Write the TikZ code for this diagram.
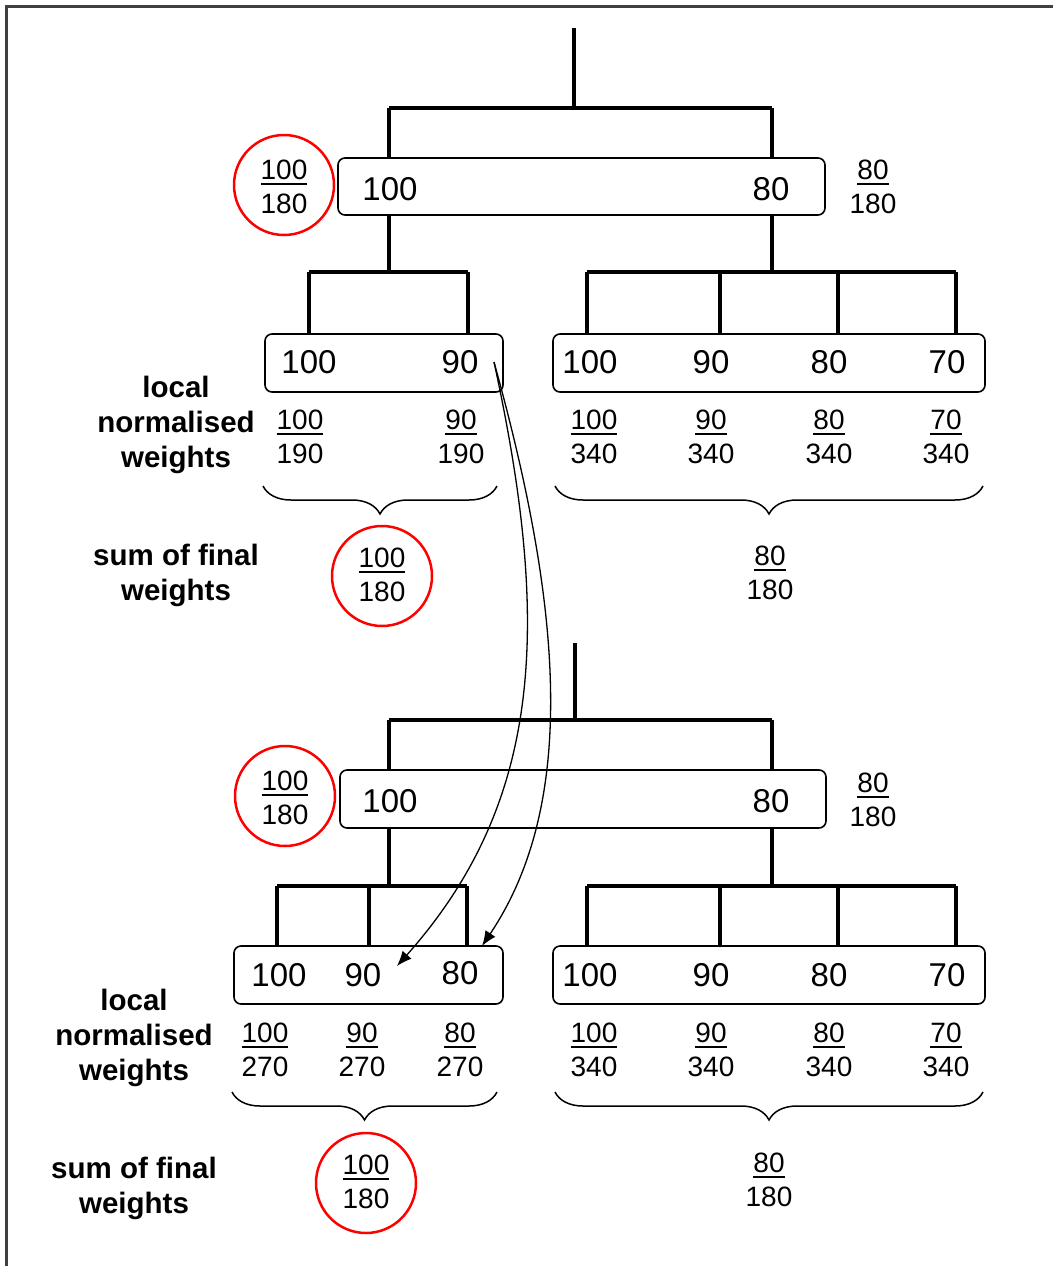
\documentclass[tikz,border=0pt]{standalone}
\usepackage{fontspec}
\setmainfont{Liberation Sans}
\usetikzlibrary{arrows.meta,decorations.pathreplacing}
\newcommand\myul[1]{\setbox0\hbox{#1}\hbox{\rlap{\vrule width \wd0 height -3pt depth 5pt}\box0}}
\newcommand\myfr[2]{\myul{#1}\\#2}
\begin{document}
\begin{tikzpicture}[x=1pt,y=-1pt,
  tree/.style={line width=3.5pt},
  wbox/.style={draw, line width=1.6pt, rounded corners=7pt, fill=white, inner sep=0pt},
  big/.style={font=\fontsize{33}{38}\selectfont, inner sep=0pt},
  frac/.style={font=\fontsize{28}{34}\selectfont, align=center, inner sep=0pt},
  lbl/.style={font=\bfseries\fontsize{29.5}{35}\selectfont, align=center, inner sep=0pt},
  ring/.style={draw=red, line width=2.5pt, circle, minimum size=100pt, inner sep=0pt},
  brc/.style={decorate, decoration={brace, mirror, amplitude=28pt}, line width=1.5pt},
  flow/.style={line width=1.3pt, -{Latex[length=15pt,width=12pt]}}
]
\useasboundingbox (0,0) rectangle (1053,1266);
\coordinate (fa) at (1053,6);
\coordinate (fb) at (6,6);
\coordinate (fc) at (6,1266);
\draw[line width=3pt, black!75] (fa) -- (fb) -- (fc);

% ---------- top tree ----------
\coordinate (r1) at (574,28);
\coordinate (h1) at (574,108);
\coordinate (h1L) at (389,108);
\coordinate (h1R) at (772,108);
\coordinate (k1L) at (389,272);
\coordinate (k1R) at (772,272);
\coordinate (k1La) at (309,272);
\coordinate (k1Lb) at (468,272);
\coordinate (k1Ra) at (587,272);
\coordinate (k1Rb) at (720,272);
\coordinate (k1Rc) at (838,272);
\coordinate (k1Rd) at (956,272);

\node[wbox, minimum width=487pt, minimum height=57pt] (T1) at (581.5,186.5) {};
\node[wbox, minimum width=238pt, minimum height=58pt] (TL) at (384,363) {};
\node[wbox, minimum width=432pt, minimum height=58pt] (TR) at (769,363) {};

\draw[tree] (r1) -- (h1);
\draw[tree] (h1L) -- (h1R);
\draw[tree] (h1L) -- (h1L |- T1.north);
\draw[tree] (h1R) -- (h1R |- T1.north);
\draw[tree] (k1L |- T1.south) -- (k1L);
\draw[tree] (k1R |- T1.south) -- (k1R);
\draw[tree] (k1La) -- (k1Lb);
\draw[tree] (k1La) -- (k1La |- TL.north);
\draw[tree] (k1Lb) -- (k1Lb |- TL.north);
\draw[tree] (k1Ra) -- (k1Rd);
\foreach \c in {k1Ra,k1Rb,k1Rc,k1Rd} \draw[tree] (\c) -- (\c |- TR.north);

\node[big] (T1a) at (390,189) {100};
\node[big] (T1b) at (771,189) {80};
\node[big] (TLa) at (309,362) {100};
\node[big] (TLb) at (460,362) {90};
\node[big] (TRa) at (590,362) {100};
\node[big] (TRb) at (711,362) {90};
\node[big] (TRc) at (829,362) {80};
\node[big] (TRd) at (947,362) {70};

\node[ring] (C1) at (284,185) {};
\node[frac] (F1) at (284,187) {\myfr{100}{180}};
\node[frac] (F2) at (873,187) {\myfr{80}{180}};

\node[frac] (F3) at (300,437) {\myfr{100}{190}};
\node[frac] (F4) at (461,437) {\myfr{90}{190}};
\node[frac] (F5) at (594,437) {\myfr{100}{340}};
\node[frac] (F6) at (711,437) {\myfr{90}{340}};
\node[frac] (F7) at (829,437) {\myfr{80}{340}};
\node[frac] (F8) at (946,437) {\myfr{70}{340}};

\node[lbl] (L1) at (176,425) {local\\normalised\\weights};
\node[lbl] (L2) at (176,575) {sum of final\\weights};

\coordinate (b1a) at (263,486);
\coordinate (b1b) at (497,486);
\coordinate (b2a) at (555,486);
\coordinate (b2b) at (983,486);
\draw[brc] (b1a) -- (b1b);
\draw[brc] (b2a) -- (b2b);

\node[ring] (C2) at (382,576) {};
\node[frac] (F9) at (382,575) {\myfr{100}{180}};
\node[frac] (F10) at (770,573) {\myfr{80}{180}};

% ---------- bottom tree ----------
\coordinate (r2) at (575,643);
\coordinate (h2) at (575,720);
\coordinate (h2L) at (389,720);
\coordinate (h2R) at (772,720);
\coordinate (k2L) at (389,886);
\coordinate (k2R) at (772,886);
\coordinate (k2La) at (277,886);
\coordinate (k2Lb) at (369,886);
\coordinate (k2Lc) at (467,886);
\coordinate (k2Ra) at (587,886);
\coordinate (k2Rb) at (720,886);
\coordinate (k2Rc) at (838,886);
\coordinate (k2Rd) at (956,886);

\node[wbox, minimum width=486pt, minimum height=58pt] (U1) at (583,799) {};
\node[wbox, minimum width=269pt, minimum height=58pt] (UL) at (368.5,975) {};
\node[wbox, minimum width=432pt, minimum height=58pt] (UR) at (769,975) {};

\draw[tree] (r2) -- (h2);
\draw[tree] (h2L) -- (h2R);
\draw[tree] (h2L) -- (h2L |- U1.north);
\draw[tree] (h2R) -- (h2R |- U1.north);
\draw[tree] (k2L |- U1.south) -- (k2L);
\draw[tree] (k2R |- U1.south) -- (k2R);
\draw[tree] (k2La) -- (k2Lc);
\foreach \c in {k2La,k2Lb,k2Lc} \draw[tree] (\c) -- (\c |- UL.north);
\draw[tree] (k2Ra) -- (k2Rd);
\foreach \c in {k2Ra,k2Rb,k2Rc,k2Rd} \draw[tree] (\c) -- (\c |- UR.north);

\node[big] (U1a) at (390,801) {100};
\node[big] (U1b) at (771,801) {80};
\node[big] (ULa) at (279,975) {100};
\node[big] (ULb) at (363,975) {90};
\node[big] (ULc) at (460,973) {80};
\node[big] (URa) at (590,975) {100};
\node[big] (URb) at (711,975) {90};
\node[big] (URc) at (829,975) {80};
\node[big] (URd) at (947,975) {70};

\node[ring] (C3) at (285,796) {};
\node[frac] (G1) at (285,798) {\myfr{100}{180}};
\node[frac] (G2) at (873,800) {\myfr{80}{180}};

\node[frac] (G3) at (265,1050) {\myfr{100}{270}};
\node[frac] (G4) at (362,1050) {\myfr{90}{270}};
\node[frac] (G5) at (460,1050) {\myfr{80}{270}};
\node[frac] (G6) at (594,1050) {\myfr{100}{340}};
\node[frac] (G7) at (711,1050) {\myfr{90}{340}};
\node[frac] (G8) at (829,1050) {\myfr{80}{340}};
\node[frac] (G9) at (946,1050) {\myfr{70}{340}};

\node[lbl] (M1) at (134,1038) {local\\normalised\\weights};
\node[lbl] (M2) at (134,1188) {sum of final\\weights};

\coordinate (c1a) at (232,1092);
\coordinate (c1b) at (497,1092);
\coordinate (c2a) at (555,1092);
\coordinate (c2b) at (983,1092);
\draw[brc] (c1a) -- (c1b);
\draw[brc] (c2a) -- (c2b);

\node[ring] (C4) at (366,1183) {};
\node[frac] (G10) at (366,1182) {\myfr{100}{180}};
\node[frac] (G11) at (769,1180) {\myfr{80}{180}};

% ---------- arrows ----------
\coordinate (s1) at (494,362);
\coordinate (e1) at (397,966);
\coordinate (e2) at (482,946);
\draw[flow] (s1) .. controls (550,620) and (545,800) .. (e1);
\draw[flow] (s1) .. controls (560,600) and (580,800) .. (e2);
\end{tikzpicture}
\end{document}
